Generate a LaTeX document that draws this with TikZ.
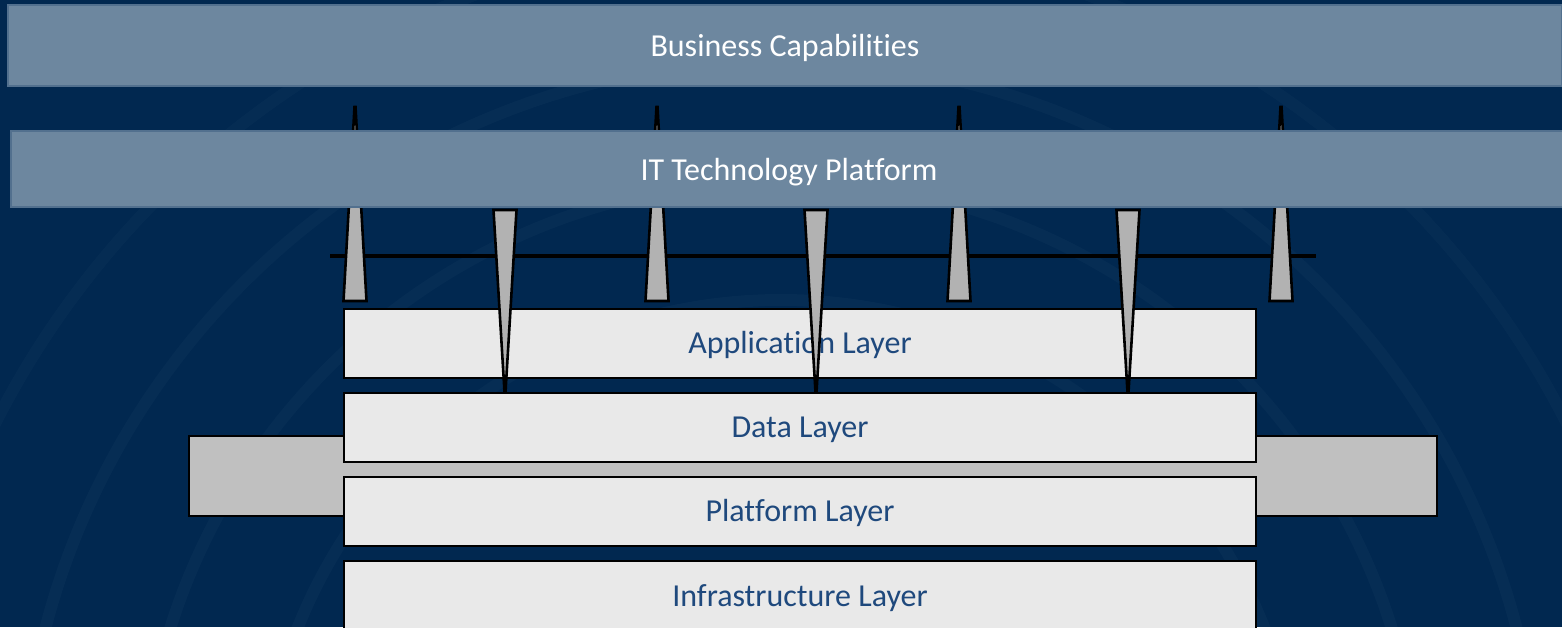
\documentclass[tikz,border=0pt]{standalone}
\usepackage{fontspec}
\setmainfont{Carlito}[Ligatures={NoCommon}, RawFeature={-liga;-dlig;-clig}]

\definecolor{navy}{RGB}{1,40,80}
\definecolor{barblue}{RGB}{109,135,159}
\definecolor{barline}{RGB}{82,112,142}
\definecolor{layerfill}{RGB}{233,233,233}
\definecolor{layertext}{RGB}{31,73,125}
\definecolor{sidegray}{RGB}{192,192,192}
\definecolor{spikegray}{RGB}{178,178,178}

\begin{document}
\begin{tikzpicture}[x=0.5pt, y=-0.5pt,
		bar/.style={fill=barblue, draw=barline, line width=0.6pt, text=white,
			font=\fontsize{16}{19}\selectfont, inner sep=0pt,
			text height=11pt, text depth=0pt},
		layer/.style={fill=layerfill, draw=black, line width=1.2pt, text=layertext,
			font=\fontsize{16}{19}\selectfont, inner sep=0pt,
			minimum width=456pt, minimum height=34.5pt,
			text height=10.4pt, text depth=0pt},
		spike/.style={fill=spikegray, draw=black, line width=1.3pt}]
			\useasboundingbox (0,0) rectangle (1562,627);
			\clip (0,0) rectangle (1562,627);
			
			% background
			\fill[navy] (0,0) rectangle (1562,627);
			\draw[white, opacity=0.025, line width=6pt] (781,820) circle (520);
			\draw[white, opacity=0.025, line width=6pt] (781,820) circle (640);
			\draw[white, opacity=0.025, line width=6pt] (781,820) circle (760);
			\draw[white, opacity=0.02, line width=6pt] (781,820) circle (880);
			
			% business capabilities
			\node[bar, minimum width=777pt, minimum height=40.5pt] (business) at (785,45.5) {Business Capabilities};
			
			% rail
			\draw[line width=2pt] (330,256) -- (1316,256);
			
			% upward spikes
			\draw[spike] (354.5,107) -- (355.5,107) -- (366.5,301) -- (343.5,301) -- cycle;
			\draw[spike] (656.5,107) -- (657.5,107) -- (668.5,301) -- (645.5,301) -- cycle;
			\draw[spike] (958.5,107) -- (959.5,107) -- (970.5,301) -- (947.5,301) -- cycle;
			\draw[spike] (1280.5,107) -- (1281.5,107) -- (1292.5,301) -- (1269.5,301) -- cycle;
			
			% IT platform
			\node[bar, minimum width=778pt, minimum height=38pt] (platform) at (789,169) {IT Technology Platform};
			
			% side block
			\draw[fill=sidegray, line width=1.2pt] (189,436) rectangle (1437,516);
			
			% layers
			\node[layer] (app) at (800,343.5) {Application Layer};
			\node[layer] (data) at (800,427.5) {Data Layer};
			\node[layer] (plat) at (800,511.5) {Platform Layer};
			\node[layer, minimum height=35pt] (infra) at (800,596) {Infrastructure Layer};
			
			% downward spikes
			\draw[spike] (493.5,210) -- (516.5,210) -- (505.5,392) -- (504.5,392) -- cycle;
			\draw[spike] (804.5,210) -- (827.5,210) -- (816.5,392) -- (815.5,392) -- cycle;
			\draw[spike] (1116.5,210) -- (1139.5,210) -- (1128.5,392) -- (1127.5,392) -- cycle;
		\end{tikzpicture}
\end{document}
